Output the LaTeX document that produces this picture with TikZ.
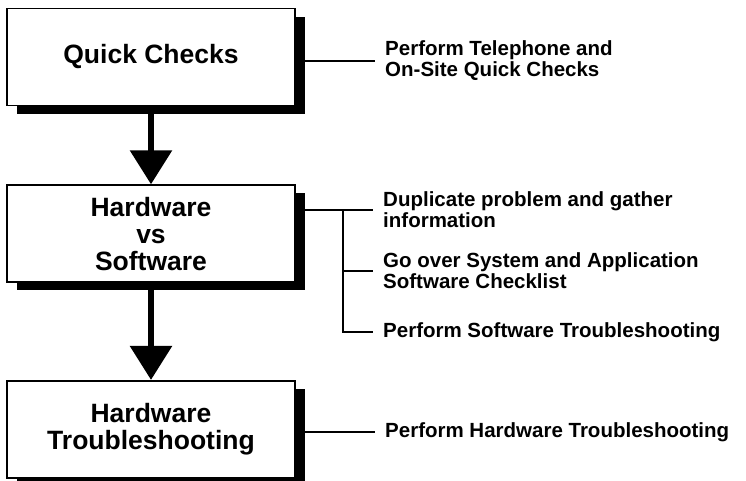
\documentclass[tikz,border=0pt]{standalone}
\usepackage{fontspec}
\setmainfont{Liberation Sans}
\usetikzlibrary{positioning,shadows,arrows.meta}

\begin{document}
\begin{tikzpicture}[x=1pt, y=-1pt, node distance=78pt,
        stepbox/.style={draw, rectangle, line width=1.6pt, fill=white, align=center,
            minimum width=288pt, minimum height=97pt,
            drop shadow={shadow xshift=10pt, shadow yshift=-8pt, fill=black, opacity=1},
            font=\fontsize{26.5}{27}\selectfont\bfseries},
        note/.style={anchor=west, align=left, inner xsep=10pt, inner ysep=0pt,
            font=\fontsize{20.5}{21}\selectfont\bfseries},
        link/.style={line width=1.6pt},
        flow/.style={line width=6pt, -{Triangle[width=41pt, length=34pt]}}]
        \useasboundingbox (0,0) rectangle (746,480);

        % Nodes
        \node[stepbox] (quick) at (151,57) {Quick Checks};
        \node[stepbox, below=of quick] (hwsw) {Hardware\\vs\\Software};
        \node[stepbox, below=97pt of hwsw] (hwts) {Hardware\\Troubleshooting};

        % Notes
        \node[note] (quickNote) at (375,61) {Perform Telephone and\\On-Site Quick Checks};
        \node[note] (dupNote) at (373,210) {Duplicate problem and gather\\information};
        \node[note] (goNote) at (373,271) {Go over System and Application\\Software Checklist};
        \node[note] (swNote) at (373,332) {Perform Software Troubleshooting};
        \node[note] (hwNote) at (375,432) {Perform Hardware Troubleshooting};
        \coordinate (fork) at (343,210);

        % Arrows
        \draw[flow] (quick.south) -- (hwsw.north);
        \draw[flow] (hwsw.south) -- (hwts.north);

        % Links
        \draw[link] (quick.east |- quickNote) -- (quickNote.west);
        \draw[link] (hwsw.east |- dupNote) -- (dupNote.west);
        \draw[link] (fork) |- (goNote.west);
        \draw[link] (fork) |- (swNote.west);
        \draw[link] (hwts.east |- hwNote) -- (hwNote.west);
    \end{tikzpicture}
\end{document}
